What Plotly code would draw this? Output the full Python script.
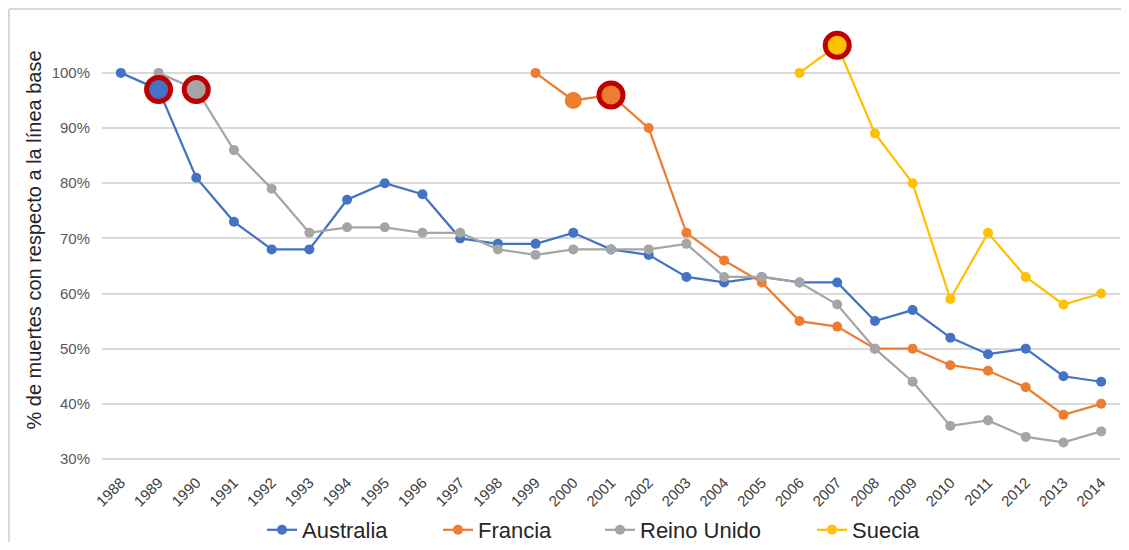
import plotly.graph_objects as go

years = [str(y) for y in range(1988, 2015)]

australia = [1.00, 0.97, 0.81, 0.73, 0.68, 0.68, 0.77, 0.80, 0.78, 0.70, 0.69, 0.69, 0.71, 0.68,
             0.67, 0.63, 0.62, 0.63, 0.62, 0.62, 0.55, 0.57, 0.52, 0.49, 0.50, 0.45, 0.44]
francia = [None] * 11 + [1.00, 0.95, 0.96, 0.90, 0.71, 0.66, 0.62, 0.55, 0.54, 0.50, 0.50,
                         0.47, 0.46, 0.43, 0.38, 0.40]
reino_unido = [None, 1.00, 0.97, 0.86, 0.79, 0.71, 0.72, 0.72, 0.71, 0.71, 0.68, 0.67, 0.68, 0.68,
               0.68, 0.69, 0.63, 0.63, 0.62, 0.58, 0.50, 0.44, 0.36, 0.37, 0.34, 0.33, 0.35]
suecia = [None] * 18 + [1.00, 1.05, 0.89, 0.80, 0.59, 0.71, 0.63, 0.58, 0.60]

series_names = ["Australia", "Francia", "Reino Unido", "Suecia"]
series_values = [australia, francia, reino_unido, suecia]
series_colors = ["#4472C4", "#ED7D31", "#A5A5A5", "#FFC000"]
highlight_years = ["1989", "2001", "1990", "2007"]
big_marker_years = [None, "2000", None, None]

# page geometry (browser body has 8px margin)
W, H = 1113, 534
ML, MR, MT, MB = 94, 1, 2, 72
PW = W - ML - MR
PH = H - MT - MB

legend_ids = ["legend", "legend2", "legend3", "legend4"]
legend_page_x = [272, 448, 610, 822]  # legend box start in page px

fig = go.Figure()

for name, vals, col, lid in zip(series_names, series_values, series_colors, legend_ids):
    fig.add_trace(go.Scatter(
        x=years, y=vals, name=name, mode="lines+markers",
        line=dict(color=col, width=2.25),
        marker=dict(color=col, size=10),
        connectgaps=False, legend=lid,
    ))

for vals, col, bigy in zip(series_values, series_colors, big_marker_years):
    if bigy:
        i = years.index(bigy)
        fig.add_trace(go.Scatter(
            x=[bigy], y=[vals[i]], mode="markers", showlegend=False, hoverinfo="skip",
            marker=dict(color=col, size=17),
        ))

for vals, col, hy in zip(series_values, series_colors, highlight_years):
    i = years.index(hy)
    fig.add_trace(go.Scatter(
        x=[hy], y=[vals[i]], mode="markers", showlegend=False,
        marker=dict(color=col, size=24, line=dict(color="#C00000", width=5)),
    ))

# outer chart frame: left and top edges
frame_left = (-ML + 1) / PW
frame_top = (PH + MT - 1) / PH
fig.add_shape(type="line", xref="paper", yref="paper",
              x0=frame_left, x1=frame_left, y0=-MB / PH, y1=frame_top,
              line=dict(color="#D9D9D9", width=2), layer="below")
fig.add_shape(type="line", xref="paper", yref="paper",
              x0=frame_left, x1=(W - ML) / PW, y0=frame_top, y1=frame_top,
              line=dict(color="#D9D9D9", width=2), layer="below")

legend_cfg = {}
for lid, px in zip(legend_ids, legend_page_x):
    legend_cfg[lid] = dict(
        orientation="h", x=(px - 8 - ML - 10) / PW, xanchor="left",
        y=(PH + MT - (530 - 8)) / PH, yanchor="middle",
        font=dict(size=22, color="#262626"), bgcolor="rgba(0,0,0,0)",
    )

fig.update_layout(
    width=W, height=H,
    paper_bgcolor="white", plot_bgcolor="white",
    margin=dict(l=ML, r=MR, t=MT, b=MB, autoexpand=False),
    font=dict(family="Liberation Sans, Arial, sans-serif", color="#404040"),
    showlegend=True,
    xaxis=dict(
        type="category", categoryorder="array", categoryarray=years,
        tickangle=-45, tickfont=dict(size=15, color="#404040"),
        showgrid=False, showline=False, zeroline=False, ticks="",
        range=[-0.5, len(years) - 0.5], automargin=False,
    ),
    yaxis=dict(
        range=[0.28, 1.114], tickvals=[0.3, 0.4, 0.5, 0.6, 0.7, 0.8, 0.9, 1.0],
        tickformat=".0%", tickfont=dict(size=15, color="#595959"),
        showgrid=True, gridcolor="#D9D9D9", gridwidth=1.5, zeroline=False, showline=False,
        title=dict(text="% de muertes con respecto a la línea base",
                   font=dict(size=20, color="#262626"), standoff=4),
        ticks="", ticklen=0, automargin=False, ticklabelstandoff=11,
    ),
    **legend_cfg,
)

fig.write_html("out.html")
